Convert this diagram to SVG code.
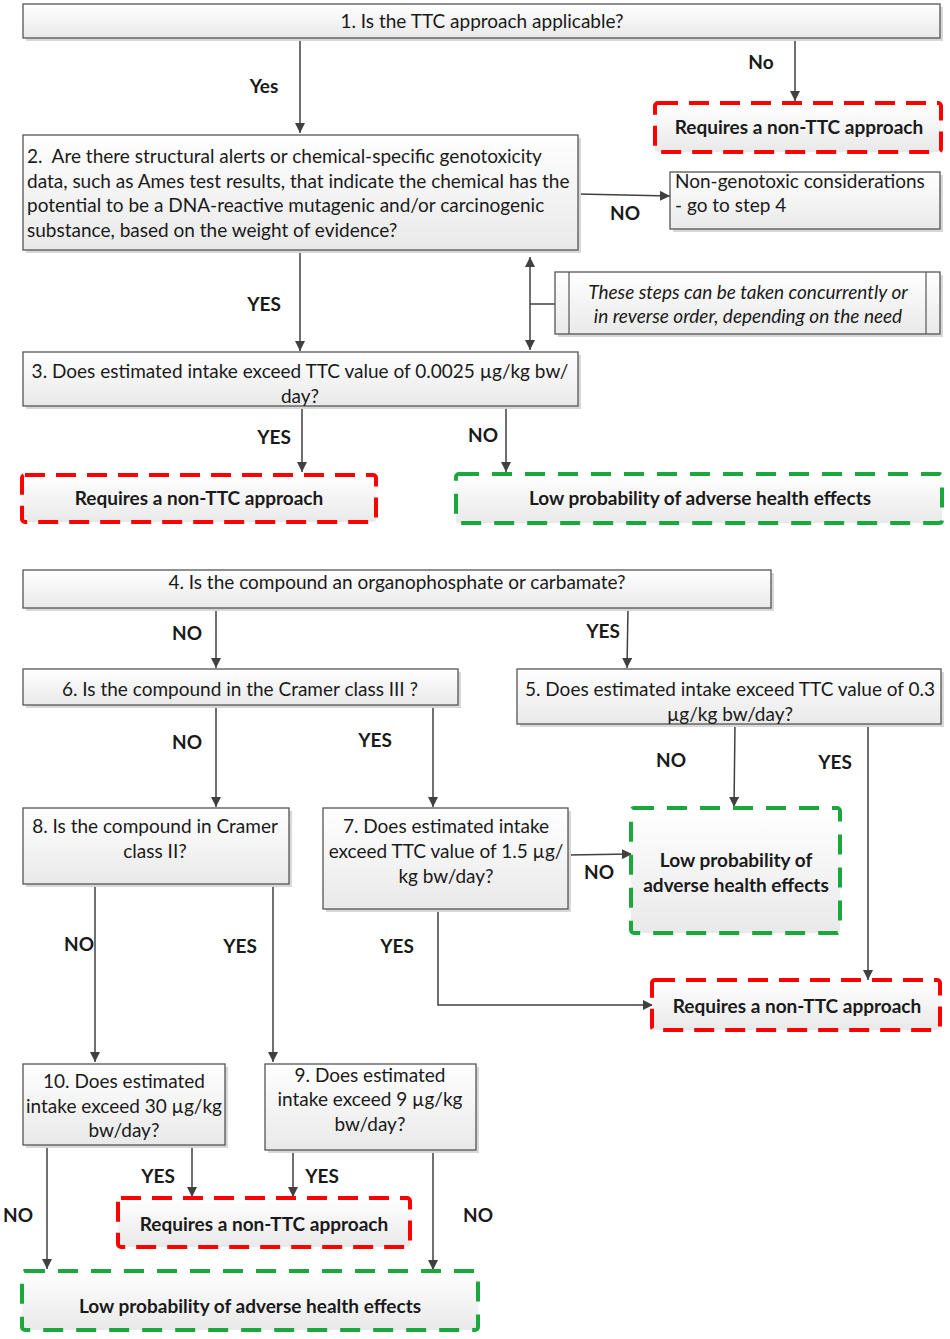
<svg xmlns="http://www.w3.org/2000/svg" width="950" height="1339" viewBox="0 0 950 1339">
<defs>
<linearGradient id="g" x1="0" y1="0" x2="0" y2="1">
<stop offset="0" stop-color="#ffffff"/>
<stop offset="1" stop-color="#e9e9e9"/>
</linearGradient>
<marker id="ah" viewBox="0 0 10 10" refX="10" refY="5" markerWidth="10" markerHeight="10" markerUnits="userSpaceOnUse" orient="auto">
<path d="M0,0 L10,5 L0,10 z" fill="#404040"/>
</marker>
<marker id="ahs" viewBox="0 0 10 10" refX="10" refY="5" markerWidth="10" markerHeight="10" markerUnits="userSpaceOnUse" orient="auto-start-reverse">
<path d="M0,0 L10,5 L0,10 z" fill="#404040"/>
</marker>
</defs>
<style>
.box{fill:url(#g);stroke:#555;stroke-width:1.3}
.sh{fill:#d8d8d8}
.red{fill:url(#g);stroke:#ff0000;stroke-width:4;stroke-dasharray:20 11}
.grn{fill:url(#g);stroke:#1aa83c;stroke-width:4;stroke-dasharray:20 13}
text{font-family:Lato,"Liberation Sans",sans-serif;font-size:19px;fill:#1a1a1a}
.c{text-anchor:middle}
.b{font-weight:bold}
.i{font-style:italic}
.ln{stroke:#404040;stroke-width:1.5;fill:none}
.ar{stroke:#404040;stroke-width:1.5;fill:none;marker-end:url(#ah)}
</style>
<rect width="950" height="1339" fill="#ffffff"/>

<g id="connectors">
<line class="ar" x1="300" y1="38" x2="300" y2="133"/>
<line class="ar" x1="795" y1="38" x2="795" y2="101"/>
<line class="ar" x1="578" y1="194" x2="670" y2="196"/>
<line class="ar" x1="300" y1="250" x2="300" y2="351"/>
<line class="ln" x1="530" y1="257" x2="530" y2="350" marker-start="url(#ahs)" marker-end="url(#ahs)"/>
<line class="ln" x1="530" y1="304" x2="555" y2="304"/>
<line class="ar" x1="302" y1="406" x2="302" y2="472"/>
<line class="ar" x1="506" y1="406" x2="506" y2="472"/>
<line class="ar" x1="216" y1="608" x2="216" y2="668"/>
<line class="ar" x1="628" y1="608" x2="627" y2="668"/>
<line class="ar" x1="216" y1="705" x2="216" y2="807"/>
<line class="ar" x1="433" y1="705" x2="433" y2="807"/>
<line class="ar" x1="735" y1="724" x2="734" y2="807"/>
<line class="ar" x1="868" y1="717" x2="868" y2="980"/>
<line class="ar" x1="568" y1="855" x2="632" y2="854"/>
<polyline class="ar" points="438,909 438,1005 653,1005"/>
<line class="ar" x1="95" y1="884" x2="95" y2="1062"/>
<line class="ar" x1="273" y1="884" x2="273" y2="1062"/>
<line class="ar" x1="47" y1="1145" x2="47" y2="1269"/>
<line class="ar" x1="192" y1="1145" x2="192" y2="1197"/>
<line class="ar" x1="293" y1="1150" x2="293" y2="1197"/>
<line class="ar" x1="433" y1="1150" x2="433" y2="1270"/>
</g>

<g id="labels">
<text class="b c" x="264" y="93">Yes</text>
<text class="b c" x="761" y="69">No</text>
<text class="b c" x="625" y="220">NO</text>
<text class="b c" x="264" y="311">YES</text>
<text class="b c" x="274" y="444">YES</text>
<text class="b c" x="483" y="442">NO</text>
<text class="b c" x="187" y="640">NO</text>
<text class="b c" x="603" y="638">YES</text>
<text class="b c" x="187" y="749">NO</text>
<text class="b c" x="375" y="747">YES</text>
<text class="b c" x="671" y="767">NO</text>
<text class="b c" x="835" y="769">YES</text>
<text class="b c" x="599" y="879">NO</text>
<text class="b c" x="397" y="953">YES</text>
<text class="b c" x="79" y="951">NO</text>
<text class="b c" x="240" y="953">YES</text>
<text class="b c" x="158" y="1183">YES</text>
<text class="b c" x="322" y="1183">YES</text>
<text class="b c" x="18" y="1222">NO</text>
<text class="b c" x="478" y="1222">NO</text>
</g>

<g id="n1">
<rect class="sh" x="26" y="7" width="917" height="34"/>
<rect class="box" x="23" y="4" width="917" height="34"/>
<text class="c" x="482" y="28">1. Is the TTC approach applicable?</text>
</g>

<g id="r1">
<rect class="red" x="655" y="103" width="286" height="49" rx="3"/>
<text class="b c" x="799" y="134">Requires a non-TTC approach</text>
</g>

<g id="n2">
<rect class="sh" x="26" y="138" width="555" height="115"/>
<rect class="box" x="23" y="135" width="555" height="115"/>
<text x="27" y="163" xml:space="preserve">2.  Are there structural alerts or chemical-specific genotoxicity</text>
<text x="27" y="188">data, such as Ames test results, that indicate the chemical has the</text>
<text x="27" y="212">potential to be a DNA-reactive mutagenic and/or carcinogenic</text>
<text x="27" y="237">substance, based on the weight of evidence?</text>
</g>

<g id="ng">
<rect class="sh" x="673" y="175" width="270" height="57"/>
<rect class="box" x="670" y="172" width="270" height="57"/>
<text x="675" y="188">Non-genotoxic considerations</text>
<text x="675" y="212">- go to step 4</text>
</g>

<g id="note">
<rect class="sh" x="558" y="275" width="385" height="62"/>
<rect class="box" x="555" y="272" width="385" height="62"/>
<line x1="569" y1="272" x2="569" y2="334" style="stroke:#555;stroke-width:1.2"/>
<line x1="926" y1="272" x2="926" y2="334" style="stroke:#555;stroke-width:1.2"/>
<text class="i c" x="748" y="299">These steps can be taken concurrently or</text>
<text class="i c" x="748" y="323">in reverse order, depending on the need</text>
</g>

<g id="n3">
<rect class="sh" x="26" y="355" width="555" height="54"/>
<rect class="box" x="23" y="352" width="555" height="54"/>
<text class="c" x="300" y="378">3. Does estimated intake exceed TTC value of 0.0025 µg/kg bw/</text>
<text class="c" x="300" y="403">day?</text>
</g>

<g id="r2">
<rect class="red" x="22" y="475" width="354" height="47" rx="3"/>
<text class="b c" x="199" y="505">Requires a non-TTC approach</text>
</g>

<g id="g1">
<rect class="grn" x="456" y="474" width="486" height="49" rx="3"/>
<text class="b c" x="700" y="505">Low probability of adverse health effects</text>
</g>

<g id="n4">
<rect class="sh" x="26" y="573" width="748" height="38"/>
<rect class="box" x="23" y="570" width="748" height="38"/>
<text class="c" x="397" y="589">4. Is the compound an organophosphate or carbamate?</text>
</g>

<g id="n6">
<rect class="sh" x="26" y="672" width="435" height="36"/>
<rect class="box" x="23" y="669" width="435" height="36"/>
<text class="c" x="240" y="696">6. Is the compound in the Cramer class III ?</text>
</g>

<g id="n5">
<rect class="sh" x="520" y="672" width="424" height="55"/>
<rect class="box" x="517" y="669" width="424" height="55"/>
<text class="c" x="730" y="696">5. Does estimated intake exceed TTC value of 0.3</text>
<text class="c" x="730" y="721">µg/kg bw/day?</text>
</g>

<g id="n8">
<rect class="sh" x="26" y="811" width="266" height="76"/>
<rect class="box" x="23" y="808" width="266" height="76"/>
<text class="c" x="155" y="833">8. Is the compound in Cramer</text>
<text class="c" x="155" y="858">class II?</text>
</g>

<g id="n7">
<rect class="sh" x="326" y="811" width="245" height="101"/>
<rect class="box" x="323" y="808" width="245" height="101"/>
<text class="c" x="446" y="833">7. Does estimated intake</text>
<text class="c" x="446" y="858">exceed TTC value of 1.5 µg/</text>
<text class="c" x="446" y="883">kg bw/day?</text>
</g>

<g id="g2">
<rect class="grn" x="631" y="808" width="209" height="125" rx="3"/>
<text class="b c" x="736" y="867">Low probability of</text>
<text class="b c" x="736" y="892">adverse health effects</text>
</g>

<g id="r3">
<rect class="red" x="652" y="980" width="288" height="50" rx="3"/>
<text class="b c" x="797" y="1013">Requires a non-TTC approach</text>
</g>

<g id="n10">
<rect class="sh" x="26" y="1067" width="202" height="81"/>
<rect class="box" x="23" y="1064" width="202" height="81"/>
<text class="c" x="124" y="1088">10. Does estimated</text>
<text class="c" x="124" y="1113">intake exceed 30 µg/kg</text>
<text class="c" x="124" y="1137">bw/day?</text>
</g>

<g id="n9">
<rect class="sh" x="268" y="1067" width="211" height="86"/>
<rect class="box" x="265" y="1064" width="211" height="86"/>
<text class="c" x="370" y="1082">9. Does estimated</text>
<text class="c" x="370" y="1106">intake exceed 9 µg/kg</text>
<text class="c" x="370" y="1131">bw/day?</text>
</g>

<g id="r4">
<rect class="red" x="118" y="1198" width="292" height="49" rx="3"/>
<text class="b c" x="264" y="1231">Requires a non-TTC approach</text>
</g>

<g id="g3">
<rect class="grn" x="22" y="1271" width="456" height="59" rx="3"/>
<text class="b c" x="250" y="1313">Low probability of adverse health effects</text>
</g>
</svg>
